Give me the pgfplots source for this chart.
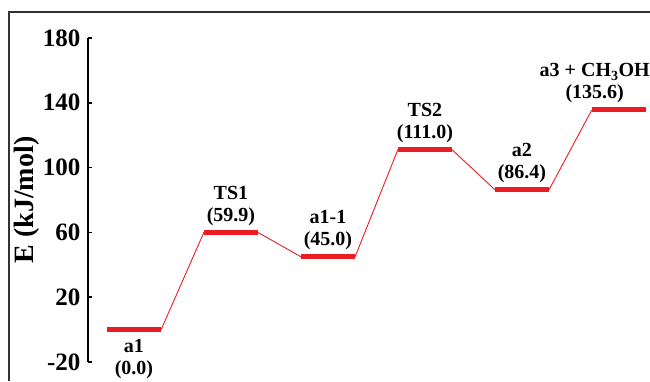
\documentclass[border=0pt]{standalone}
\usepackage{pgfplots}
\pgfplotsset{compat=1.18}
\usepackage{fontspec}
\setmainfont{Liberation Serif}
\definecolor{pathred}{HTML}{ED1C24}
\definecolor{framegray}{HTML}{333333}

\begin{document}
\begin{tikzpicture}[x=1pt,y=1pt]
\useasboundingbox (0,0) rectangle (650,381);
% outer frame (open at right and bottom)
\draw[framegray, line width=1.5pt] (9,0) -- (9,369) -- (650,369);
\begin{axis}[
  at={(88pt,19pt)}, anchor=south west,
  scale only axis, width=562pt, height=324pt,
  xmin=-0.474, xmax=5.32, ymin=-20, ymax=180,
  clip=false,
  axis x line=none,
  axis y line*=left,
  axis line style={black, line width=1.5pt},
  ytick={-20,20,60,100,140,180},
  tick align=inside,
  major tick length=4pt,
  every tick/.style={black, line width=1.5pt},
  /pgf/number format/assume math mode=true,
  yticklabel style={font=\fontsize{25}{27}\selectfont\bfseries, xshift=-4pt},
  ylabel={E (kJ/mol)},
  ylabel style={font=\fontsize{28}{30}\selectfont\bfseries, at={(axis description cs:-0.1085,0.5)}, anchor=center},
]
% thin connectors between levels
\addplot[pathred, line width=0.9pt] coordinates {
  (0.28,0) (0.72,59.9)
  (1.28,59.9) (1.72,45.0)
  (2.28,45.0) (2.72,111.0)
  (3.28,111.0) (3.72,86.4)
  (4.28,86.4) (4.72,135.6)
};
% energy levels
\addplot[pathred, line width=5pt] coordinates {(-0.28,0) (0.28,0)};
\addplot[pathred, line width=5pt] coordinates {(0.72,59.9) (1.28,59.9)};
\addplot[pathred, line width=5pt] coordinates {(1.72,45.0) (2.28,45.0)};
\addplot[pathred, line width=5pt] coordinates {(2.72,111.0) (3.28,111.0)};
\addplot[pathred, line width=5pt] coordinates {(3.72,86.4) (4.28,86.4)};
\addplot[pathred, line width=5pt] coordinates {(4.72,135.6) (5.28,135.6)};
% species labels
\tikzset{lbl/.style={font=\fontsize{20}{22}\selectfont\bfseries, align=center, inner sep=0pt}}
\node[lbl, anchor=north] at (axis cs:0,0) [yshift=-9pt] {a1\\(0.0)};
\node[lbl, anchor=south] at (axis cs:1,59.9) [yshift=6.5pt] {TS1\\(59.9)};
\node[lbl, anchor=south] at (axis cs:2,45.0) [yshift=6.5pt] {a1-1\\(45.0)};
\node[lbl, anchor=south] at (axis cs:3,111.0) [yshift=6.5pt] {TS2\\(111.0)};
\node[lbl, anchor=south] at (axis cs:4,86.4) [yshift=6.5pt] {a2\\(86.4)};
\node[lbl, anchor=south] at (axis cs:4.75,135.6) [yshift=6.5pt] {a3 + CH\textsubscript{3}OH\\(135.6)};
\end{axis}
\end{tikzpicture}
\end{document}
